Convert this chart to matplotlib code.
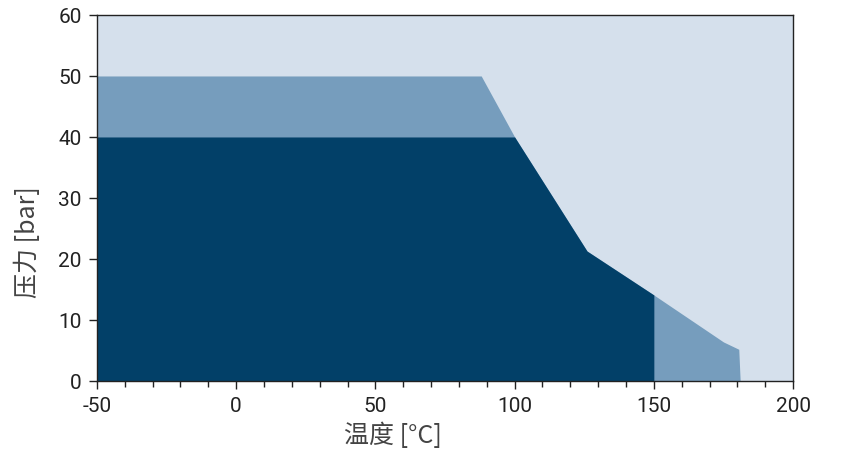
import matplotlib

matplotlib.use("Agg")
import matplotlib.pyplot as plt
from matplotlib.ticker import MultipleLocator

# envelope data (temperature in °C, pressure in bar)
outer_t = [-50, 88, 100, 126, 150, 175, 180.5, 181]
outer_p = [50, 50, 40, 21.3, 14.1, 6.4, 5.2, 0]
inner_t = [-50, 100, 126, 150, 150]
inner_p = [40, 40, 21.3, 14.1, 0]

BG = "#d5e0ec"
MID = "#769dbd"
DARK = "#024068"

plt.rcParams["font.family"] = ["Roboto", "Noto Sans CJK SC", "DejaVu Sans"]
plt.rcParams["axes.unicode_minus"] = False

fig = plt.figure(figsize=(8.41, 4.60), dpi=100)
ax = fig.add_axes([0.1153, 0.1696, 0.8277, 0.7957])
ax.set_facecolor(BG)

ax.fill_between(outer_t, outer_p, 0, color=MID, lw=0)
ax.fill_between(inner_t, inner_p, 0, color=DARK, lw=0)

ax.set_xlim(-50, 200)
ax.set_ylim(0, 60)
ax.xaxis.set_major_locator(MultipleLocator(50))
ax.xaxis.set_minor_locator(MultipleLocator(10))
ax.yaxis.set_major_locator(MultipleLocator(10))
ax.tick_params(axis="both", which="major", labelsize=15, colors="#222222",
               length=6, width=1, pad=5)
ax.tick_params(axis="x", which="minor", length=4, width=1, color="#222222")
for s in ax.spines.values():
    s.set_color("#222222")
    s.set_linewidth(1)

cjk = ["Noto Sans CJK SC", "DejaVu Sans"]
ax.set_xlabel("温度 [°C]", fontsize=18, color="#444444", family=cjk)
ax.set_ylabel("压力 [bar]", fontsize=18, color="#444444", family=cjk)
ax.xaxis.set_label_coords(0.425, -0.112)
ax.yaxis.set_label_coords(-0.08, 0.383)

fig.savefig("out.png", dpi=100)
plt.close(fig)
